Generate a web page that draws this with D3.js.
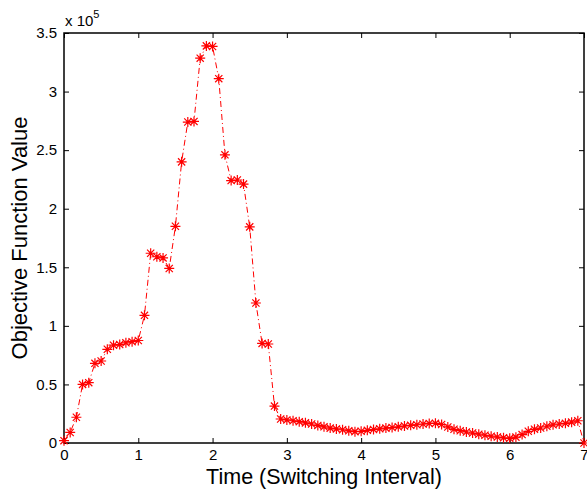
<!DOCTYPE html>
<html>
<head>
<meta charset="utf-8">
<script src="https://cdn.jsdelivr.net/npm/d3@7"></script>
<style>
  body { margin: 0; background: #fff; }
  svg text { font-family: "Liberation Sans", Arial, Helvetica, sans-serif; fill: #000; }
</style>
</head>
<body>
<svg id="chart" width="587" height="491"></svg>
<script>
// objective values in units of 1e5, sampled every 1/12 of a switching interval
var times = d3.range(85).map(function(i) { return i / 12; });
var values = [
  0.02, 0.09, 0.22, 0.50, 0.515, 0.68, 0.70, 0.80, 0.835, 0.84, 0.855, 0.865, 0.875,
  1.09, 1.62, 1.59, 1.58, 1.49, 1.85, 2.40, 2.74, 2.745, 3.285, 3.39, 3.385, 3.11,
  2.46, 2.24, 2.245, 2.21, 1.845, 1.195, 0.85, 0.845, 0.315, 0.205, 0.197, 0.19,
  0.182, 0.172, 0.162, 0.15, 0.138, 0.127, 0.12, 0.113, 0.104, 0.097, 0.10, 0.108,
  0.115, 0.121, 0.127, 0.132, 0.138, 0.145, 0.151, 0.156, 0.162, 0.167, 0.168, 0.158,
  0.137, 0.117, 0.105, 0.094, 0.085, 0.075, 0.066, 0.058, 0.051, 0.044, 0.04, 0.05,
  0.072, 0.10, 0.117, 0.128, 0.143, 0.155, 0.162, 0.168, 0.178, 0.19, 0
];
var xTicks = [0, 1, 2, 3, 4, 5, 6, 7];
var yTicks = [0, 0.5, 1, 1.5, 2, 2.5, 3, 3.5];

(function() {
  var svg = d3.select("#chart");
  var x0 = 64, x1 = 584, y0 = 33, y1 = 443;

  var x = d3.scaleLinear().domain([0, 7]).range([x0, x1]);
  var y = d3.scaleLinear().domain([0, 3.5]).range([y1, y0]);

  var fmt = function(d) { return String(d); };

  // axes (ticks drawn inward, mirrored on top and right)
  svg.append("g").attr("transform", "translate(0," + y1 + ")")
    .call(d3.axisBottom(x).tickValues(xTicks).tickFormat(fmt).tickSizeInner(-5).tickSizeOuter(0).tickPadding(6));
  svg.append("g").attr("transform", "translate(0," + y0 + ")")
    .call(d3.axisTop(x).tickValues(xTicks).tickFormat("").tickSizeInner(-5).tickSizeOuter(0));
  svg.append("g").attr("transform", "translate(" + x0 + ",0)")
    .call(d3.axisLeft(y).tickValues(yTicks).tickFormat(fmt).tickSizeInner(-5).tickSizeOuter(0).tickPadding(7));
  svg.append("g").attr("transform", "translate(" + x1 + ",0)")
    .call(d3.axisRight(y).tickValues(yTicks).tickFormat("").tickSizeInner(-5).tickSizeOuter(0));

  svg.selectAll(".domain").remove();
  svg.selectAll(".tick line").attr("stroke", "#000").attr("stroke-width", 1);
  svg.selectAll(".tick text").style("font-size", "15px").attr("fill", "#000");

  // box
  svg.append("rect")
    .attr("x", x0).attr("y", y0)
    .attr("width", x1 - x0).attr("height", y1 - y0)
    .attr("fill", "none").attr("stroke", "#000").attr("stroke-width", 1.5);

  // data line
  var pts = times.map(function(t, i) { return [t, values[i]]; });
  var line = d3.line().x(function(d) { return x(d[0]); }).y(function(d) { return y(d[1]); });
  svg.append("path")
    .attr("d", line(pts))
    .attr("fill", "none")
    .attr("stroke", "#ff0000")
    .attr("stroke-width", 1)
    .attr("stroke-dasharray", "6,3,1,3");

  // asterisk markers
  var r = 5, q = 3.6;
  var star = "M" + (-r) + ",0L" + r + ",0M0," + (-r) + "L0," + r +
    "M" + (-q) + "," + (-q) + "L" + q + "," + q + "M" + (-q) + "," + q + "L" + q + "," + (-q);
  svg.append("g").selectAll("path")
    .data(pts)
    .enter().append("path")
    .attr("transform", function(d) { return "translate(" + x(d[0]) + "," + y(d[1]) + ")"; })
    .attr("d", star)
    .attr("fill", "none")
    .attr("stroke", "#ff0000")
    .attr("stroke-width", 1.2);

  // exponent label
  var ex = svg.append("text").attr("x", 65).attr("y", 26).style("font-size", "15px");
  ex.append("tspan").text("x 10");
  ex.append("tspan").attr("dy", -8).style("font-size", "11px").text("5");

  // axis titles
  svg.append("text")
    .attr("x", (x0 + x1) / 2).attr("y", 484)
    .attr("text-anchor", "middle")
    .style("font-size", "21.5px")
    .text("Time (Switching Interval)");

  svg.append("text")
    .attr("transform", "translate(27," + ((y0 + y1) / 2) + ") rotate(-90)")
    .attr("text-anchor", "middle")
    .style("font-size", "22px")
    .text("Objective Function Value");
})();
</script>
</body>
</html>
